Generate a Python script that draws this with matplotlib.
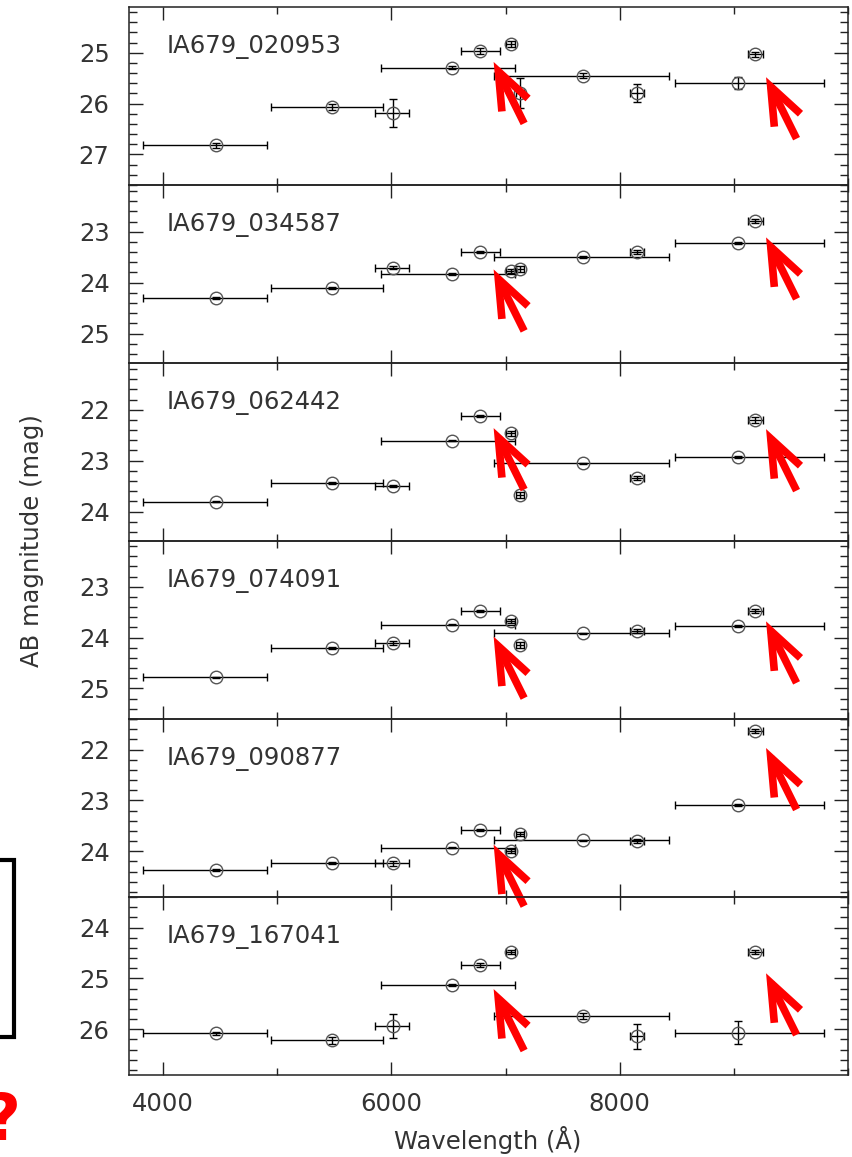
import numpy as np
import matplotlib
matplotlib.use('Agg')
import matplotlib.pyplot as plt
from matplotlib.ticker import MultipleLocator, FixedLocator
from matplotlib.patches import Rectangle

plt.rcParams['font.family'] = ['DejaVu Sans']

# filter centres and band edges (Angstrom)
wave = [4461, 5480, 6014, 6530, 6778, 7044, 7129, 7677, 8149, 9033, 9188]
wave_lo = [636, 540, 155, 618, 172, 40, 36, 780, 60, 548, 66]
wave_hi = [450, 446, 139, 555, 175, 40, 36, 752, 60, 759, 66]
wave_ticks = [4000, 6000, 8000]

nan = np.nan
names = ['IA679_020953', 'IA679_034587', 'IA679_062442',
         'IA679_074091', 'IA679_090877', 'IA679_167041']

mag_020953 = [26.82, 26.07, 26.18, 25.29, 24.96, 24.82, 25.79, 25.45, 25.79, 25.59, 25.03]
err_020953 = [0.05, 0.06, 0.27, 0.03, 0.06, 0.06, 0.30, 0.05, 0.17, 0.12, 0.05]
mag_034587 = [24.31, 24.10, 23.71, 23.83, 23.39, 23.77, 23.73, 23.49, 23.40, 23.22, 22.78]
err_034587 = [0.02, 0.02, 0.03, 0.02, 0.02, 0.04, 0.06, 0.02, 0.04, 0.02, 0.04]
mag_062442 = [23.81, 23.44, 23.49, 22.61, 22.13, 22.46, 23.67, 23.05, 23.34, 22.92, 22.20]
err_062442 = [0.01, 0.02, 0.02, 0.01, 0.02, 0.05, 0.06, 0.01, 0.04, 0.02, 0.05]
mag_074091 = [24.78, 24.21, 24.11, 23.75, 23.47, 23.68, 24.15, 23.91, 23.87, 23.77, 23.48]
err_074091 = [0.01, 0.02, 0.04, 0.01, 0.02, 0.04, 0.06, 0.01, 0.04, 0.02, 0.04]
mag_090877 = [24.37, 24.24, 24.24, 23.93, 23.59, 23.99, 23.66, 23.78, 23.80, 23.10, 21.64]
err_090877 = [0.02, 0.02, 0.05, 0.01, 0.02, 0.04, 0.04, 0.01, 0.04, 0.02, 0.04]
mag_167041 = [26.08, 26.22, 25.94, 25.13, 24.74, 24.49, nan, 25.74, 26.14, 26.07, 24.48]
err_167041 = [0.03, 0.07, 0.23, 0.02, 0.04, 0.04, nan, 0.06, 0.24, 0.23, 0.04]

mags = [mag_020953, mag_034587, mag_062442, mag_074091, mag_090877, mag_167041]
errs = [err_020953, err_034587, err_062442, err_074091, err_090877, err_167041]

# magnitude range of each panel (faint, bright)
ylims = [(27.6, 24.1), (25.58, 22.08), (24.58, 21.08),
         (25.6, 22.1), (24.9, 21.4), (26.9, 23.4)]

# red arrow tips (wavelength, mag) in every panel
arrow_x = [6895, 9282]
arrow_mag = [(25.18, 25.48), (23.74, 23.11), (22.36, 22.38),
             (23.98, 23.68), (23.87, 21.97), (25.21, 24.90)]

W, H = 852, 1157
fig = plt.figure(figsize=(W / 100, H / 100), dpi=100)
fig.patch.set_facecolor('white')

left, right = 129, 848
top, bottom = 7, 1075
ph = (bottom - top) / 6.0
ink = '#222222'

for i in range(6):
    y0 = top + i * ph
    ax = fig.add_axes([left / W, 1 - (y0 + ph) / H, (right - left) / W, ph / H])
    ax.patch.set_visible(False)

    ax.errorbar(wave, mags[i], yerr=errs[i],
                xerr=[wave_lo, wave_hi], fmt='o', ms=9, mfc='none',
                mec='#555555', mew=1.0, ecolor='black', elinewidth=1.0,
                capsize=2.8, capthick=1.0, zorder=3)

    ax.set_xlim(3700, 10000)
    ax.set_ylim(*ylims[i])
    ax.xaxis.set_major_locator(FixedLocator(wave_ticks))
    ax.xaxis.set_minor_locator(MultipleLocator(1000))
    ax.yaxis.set_major_locator(MultipleLocator(1))
    ax.yaxis.set_minor_locator(MultipleLocator(0.2))
    ax.tick_params(which='both', direction='in', top=True, right=True,
                   color=ink, width=1.0, labelsize=17.5, labelcolor='#333333')
    ax.tick_params(axis='x', which='major', length=9.5, pad=12)
    ax.tick_params(axis='x', which='minor', length=5)
    ax.tick_params(axis='y', which='major', length=10, pad=14)
    ax.tick_params(axis='y', which='minor', length=6)
    for s in ax.spines.values():
        s.set_linewidth(1.1)
        s.set_color(ink)
    if i < 5:
        ax.tick_params(axis='x', labelbottom=False)

    ax.text(0.053, 1 - 46.3 / ph, names[i], transform=ax.transAxes,
            ha='left', va='baseline', fontsize=17.5, color='#333333')

    for ax_x, ax_m in zip(arrow_x, arrow_mag[i]):
        ax.annotate('', xy=(ax_x, ax_m), xytext=(30.5, -61.5),
                    textcoords='offset pixels', annotation_clip=False,
                    arrowprops=dict(arrowstyle='->,head_length=27,head_width=10.5',
                                    mutation_scale=1, color='#ff0000', lw=5.5,
                                    shrinkA=0, shrinkB=0, joinstyle='miter',
                                    capstyle='butt'),
                    zorder=5)

fig.text(32 / W, 1 - 541 / H, 'AB magnitude (mag)', rotation=90,
         ha='center', va='center', fontsize=17.5, color='#333333')
fig.text(488 / W, 1 - 1140 / H, 'Wavelength (Å)', ha='center', va='center',
         fontsize=17.5, color='#333333')

# box edge and question mark along the left border
fig.patches.append(Rectangle((-0.05, 1 - 1037 / H), 0.05 + 14 / W,
                             (1037 - 860) / H, transform=fig.transFigure,
                             fill=False, ec='black', lw=3.0))
fig.text(2 / W, 1 - 1122 / H, '?', ha='center', va='center',
         fontsize=46, fontweight='bold', color='#ff0000')

fig.savefig('out.png', dpi=100)
